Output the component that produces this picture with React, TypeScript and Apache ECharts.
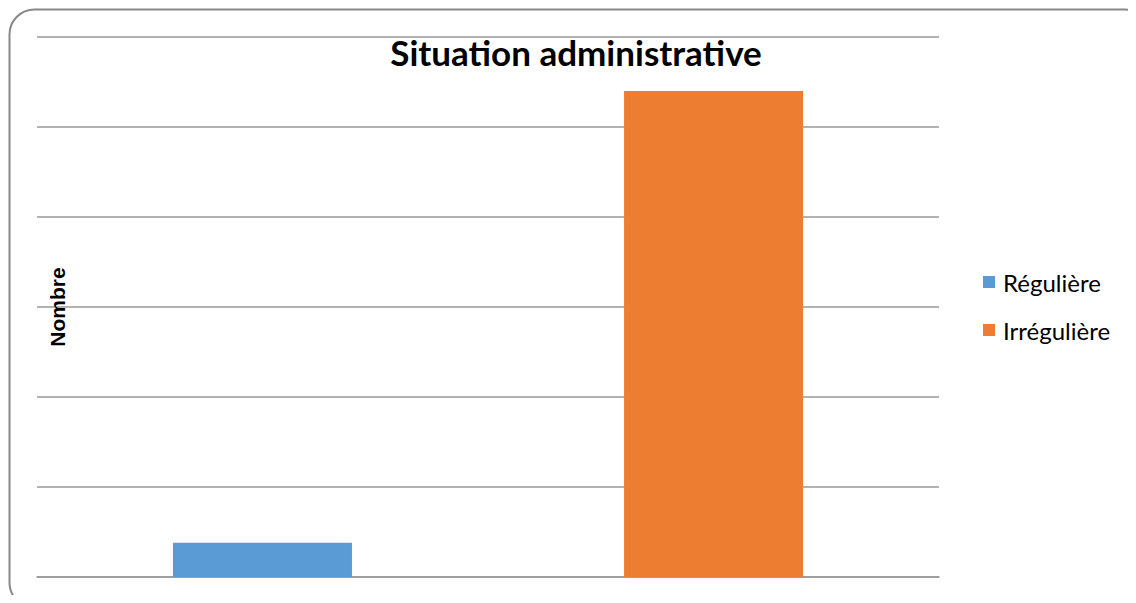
import React, { useEffect, useRef } from "react";
import * as echarts from "echarts";

const categories = ["Situation"];
const seriesNames = ["Régulière", "Irrégulière"];
const reguliere = [3.8];
const irreguliere = [54];
const yMax = 60;
const yInterval = 10;

export default function App() {
  const ref = useRef<HTMLDivElement>(null);
  useEffect(() => {
    if (!ref.current) return;
    const chart = echarts.init(ref.current, null, { renderer: "svg" });
    chart.setOption({
      animation: false,
      backgroundColor: "#ffffff",
      graphic: [
        {
          type: "rect",
          left: 7,
          top: 7,
          shape: { width: 1140, height: 598, r: 25 },
          style: { fill: "none", stroke: "#888888", lineWidth: 2 },
          silent: true,
          z: 100,
        },
      ],
      title: {
        text: "Situation administrative",
        left: 571,
        top: 29,
        textAlign: "center",
        textStyle: {
          fontFamily: "Lato",
          fontWeight: "bold",
          fontSize: 35,
          color: "#000",
        },
      },
      legend: {
        orient: "vertical",
        left: 983,
        top: 270,
        padding: 0,
        itemWidth: 12,
        itemHeight: 12,
        itemGap: 24,
        icon: "rect",
        textStyle: { fontFamily: "Lato", fontSize: 24, color: "#000", padding: [0, 0, 0, 3] },
        data: seriesNames,
      },
      grid: { left: 37, right: 197, top: 37, bottom: 26, containLabel: false },
      xAxis: {
        type: "category",
        data: categories,
        axisLine: { show: true, lineStyle: { color: "#999", width: 1.5 } },
        axisTick: { show: false },
        axisLabel: { show: false },
      },
      yAxis: {
        type: "value",
        min: 0,
        max: yMax,
        interval: yInterval,
        name: "Nombre",
        nameLocation: "middle",
        nameGap: -31,
        nameRotate: 90,
        nameTextStyle: {
          fontFamily: "Liberation Sans",
          fontWeight: "bold",
          fontSize: 21,
          color: "#000",
        },
        axisLine: { show: false },
        axisTick: { show: false },
        axisLabel: { show: false },
        splitLine: { lineStyle: { color: "#999", width: 1.5 } },
      },
      series: [
        {
          name: seriesNames[0],
          type: "bar",
          data: reguliere,
          barWidth: 179,
          barGap: "152%",
          itemStyle: { color: "#5B9BD5" },
        },
        {
          name: seriesNames[1],
          type: "bar",
          data: irreguliere,
          barWidth: 179,
          itemStyle: { color: "#ED7D31" },
        },
      ],
    });
    return () => chart.dispose();
  }, []);
  return <div ref={ref} style={{ width: 1136, height: 603, margin: -8 }} />;
}
